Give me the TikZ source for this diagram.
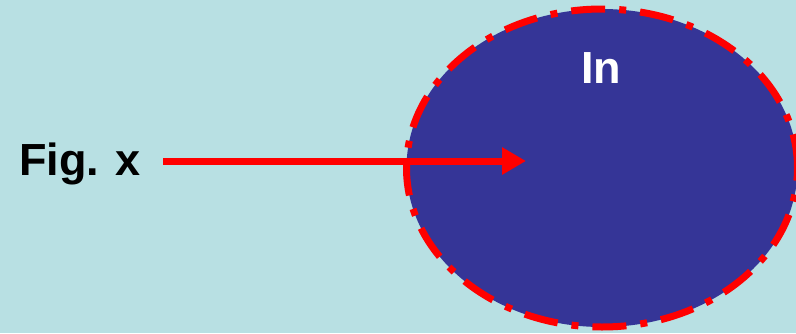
\documentclass[tikz,border=0pt]{standalone}
\usepackage{fontspec}
\setmainfont{Liberation Sans}
\usetikzlibrary{arrows.meta,shapes.geometric}
\definecolor{bgcyan}{RGB}{184,224,227}
\definecolor{blobblue}{RGB}{53,53,151}
\tikzset{
  blob/.style={ellipse,fill=blobblue,draw=red,line width=7pt,
    dash pattern=on 34pt off 14pt on 7pt off 14pt,minimum width=391pt,minimum height=318pt,inner sep=0pt},
  label/.style={font=\bfseries\fontsize{45}{45}\selectfont,inner sep=0pt},
  pointer/.style={draw=red,line width=7pt,-{Triangle[length=24pt,width=26pt]}}
}
\begin{document}
\begin{tikzpicture}[x=1pt,y=-1pt]
\fill[bgcyan] (0,0) rectangle (796,333);
\useasboundingbox (0,0) rectangle (796,333);
\node[blob] (blob) at (602,168) {};
\node[label,text=white,anchor=base] (in) at (601,83) {In};
\node[label,text=black,anchor=base west] (fig) at (19,175) {Fig. x};
\coordinate (tip) at (526,161);
\coordinate (start) at (163,161);
\draw[pointer] (start) -- (tip);
\end{tikzpicture}
\end{document}
